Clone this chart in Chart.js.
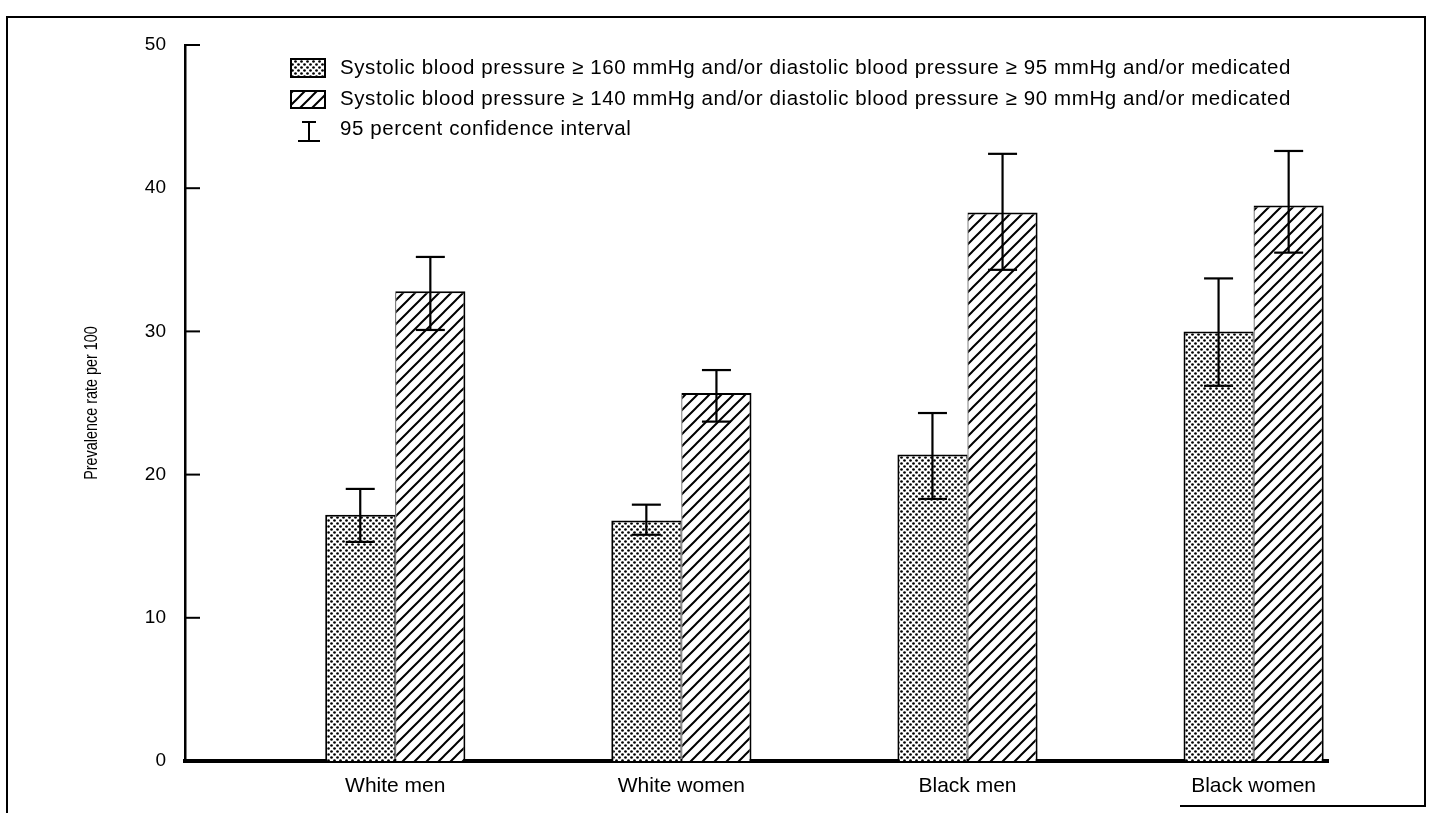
<!DOCTYPE html>
<html>
<head>
<meta charset="utf-8">
<title>Prevalence of hypertension</title>
<script src="https://cdn.jsdelivr.net/npm/chart.js@4.4.1/dist/chart.umd.min.js"></script>
<style>
    html, body { margin: 0; padding: 0; background: #fff; }
    #wrap { width: 1432px; height: 813px; }
</style>
</head>
<body>
<div id="wrap"><canvas id="prevalenceChart" width="1432" height="813"></canvas></div>
<script>
// groups along the x axis
const categories = ['White men', 'White women', 'Black men', 'Black women'];

// >= 160/95 mmHg and/or medicated
const rate160 = [17.2, 16.8, 21.4, 30.0];
const rate160Low = [15.3, 15.8, 18.3, 26.2];
const rate160High = [19.0, 17.9, 24.3, 33.7];

// >= 140/90 mmHg and/or medicated
const rate140 = [32.8, 25.7, 38.3, 38.8];
const rate140Low = [30.1, 23.7, 34.3, 35.5];
const rate140High = [35.2, 27.3, 42.4, 42.6];

const yTickValues = [0, 10, 20, 30, 40, 50];
const yTitle = 'Prevalence rate per 100';

const legendLabels = [
    'Systolic blood pressure \u2265 160 mmHg and/or diastolic blood pressure \u2265 95 mmHg and/or medicated',
    'Systolic blood pressure \u2265 140 mmHg and/or diastolic blood pressure \u2265 90 mmHg and/or medicated',
    '95 percent confidence interval'
];

const INK = '#000';
const FONT = '"Liberation Sans", Arial, sans-serif';

// stipple fill
function dotPattern() {
    const c = document.createElement('canvas');
    c.width = 6; c.height = 6;
    const g = c.getContext('2d');
    g.fillStyle = '#fff';
    g.fillRect(0, 0, 6, 6);
    g.fillStyle = INK;
    [[1.5, 1.5], [4.5, 4.5]].forEach(function (p) {
        g.beginPath();
        g.arc(p[0], p[1], 1.35, 0, Math.PI * 2);
        g.fill();
    });
    return g.createPattern(c, 'repeat');
}

// diagonal hatch fill
function hatchPattern() {
    const s = 12;
    const c = document.createElement('canvas');
    c.width = s; c.height = s;
    const g = c.getContext('2d');
    g.fillStyle = '#fff';
    g.fillRect(0, 0, s, s);
    g.strokeStyle = INK;
    g.lineWidth = 2;
    g.beginPath();
    g.moveTo(-2, 2); g.lineTo(2, -2);
    g.moveTo(0, s); g.lineTo(s, 0);
    g.moveTo(s - 2, s + 2); g.lineTo(s + 2, s - 2);
    g.stroke();
    return g.createPattern(c, 'repeat');
}

const dots = dotPattern();
const hatch = hatchPattern();

function line(ctx, x1, y1, x2, y2) {
    ctx.beginPath();
    ctx.moveTo(x1, y1);
    ctx.lineTo(x2, y2);
    ctx.stroke();
}

// page frame, inward y ticks, axis title, confidence whiskers and the key
const extras = {
    id: 'extras',
    afterDatasetsDraw(chart) {
        const ctx = chart.ctx;
        const y = chart.scales.y;
        const area = chart.chartArea;
        ctx.save();
        ctx.strokeStyle = INK;
        ctx.fillStyle = INK;
        ctx.lineCap = 'butt';

        // tick marks point into the plot
        ctx.lineWidth = 2;
        yTickValues.forEach(function (v) {
            if (v === 0) return;
            const py = y.getPixelForValue(v);
            line(ctx, area.left, py, area.left + 15, py);
        });

        // condensed vertical axis title
        ctx.save();
        ctx.translate(92, (area.top + area.bottom) / 2);
        ctx.rotate(-Math.PI / 2);
        ctx.scale(0.8, 1);
        ctx.font = '18px ' + FONT;
        ctx.textAlign = 'center';
        ctx.textBaseline = 'middle';
        ctx.fillText(yTitle, 0, 0);
        ctx.restore();

        // error bars
        const bounds = [[rate160Low, rate160High], [rate140Low, rate140High]];
        ctx.lineWidth = 2.2;
        bounds.forEach(function (b, di) {
            const meta = chart.getDatasetMeta(di);
            meta.data.forEach(function (bar, i) {
                const top = y.getPixelForValue(b[1][i]);
                const bot = y.getPixelForValue(b[0][i]);
                line(ctx, bar.x, top, bar.x, bot);
                line(ctx, bar.x - 14.5, top, bar.x + 14.5, top);
                line(ctx, bar.x - 14.5, bot, bar.x + 14.5, bot);
            });
        });

        // key
        ctx.lineWidth = 2;
        ctx.fillStyle = dots;
        ctx.fillRect(291, 59, 34, 18);
        ctx.strokeRect(291, 59, 34, 18);
        ctx.fillStyle = hatch;
        ctx.fillRect(291, 91, 34, 17);
        ctx.strokeRect(291, 91, 34, 17);
        line(ctx, 309, 122, 309, 141);
        line(ctx, 302, 122, 316, 122);
        line(ctx, 298, 141, 320, 141);

        ctx.fillStyle = INK;
        ctx.font = '20.5px ' + FONT;
        ctx.letterSpacing = '0.6px';
        ctx.textAlign = 'left';
        ctx.textBaseline = 'middle';
        const rows = [68, 99, 129];
        legendLabels.forEach(function (t, i) {
            ctx.fillText(t, 340, rows[i]);
        });
        ctx.letterSpacing = '0px';

        // frame round the figure
        ctx.lineWidth = 2;
        ctx.beginPath();
        ctx.moveTo(7, 813);
        ctx.lineTo(7, 17);
        ctx.lineTo(1425, 17);
        ctx.lineTo(1425, 806);
        ctx.lineTo(1180, 806);
        ctx.stroke();
        ctx.restore();
    }
};

new Chart(document.getElementById('prevalenceChart'), {
    type: 'bar',
    data: {
        datasets: [{
            label: legendLabels[0],
            data: rate160.map(function (v, i) { return { x: i, y: v }; }),
            backgroundColor: dots,
            borderColor: INK,
            borderWidth: { left: 2, top: 2, right: 1, bottom: 0 },
            borderSkipped: false
        }, {
            label: legendLabels[1],
            data: rate140.map(function (v, i) { return { x: i, y: v }; }),
            backgroundColor: hatch,
            borderColor: INK,
            borderWidth: { left: 1, top: 2, right: 2, bottom: 0 },
            borderSkipped: false
        }]
    },
    options: {
        responsive: false,
        animation: false,
        devicePixelRatio: 1,
        categoryPercentage: 0.49,
        barPercentage: 1,
        layout: { padding: { left: 0, top: 45, right: 104, bottom: 0 } },
        plugins: {
            legend: { display: false },
            tooltip: { enabled: false }
        },
        scales: {
            x: {
                type: 'linear',
                offset: false,
                min: -0.735,
                max: 3.26,
                afterBuildTicks: function (scale) {
                    scale.ticks = categories.map(function (_, i) { return { value: i }; });
                },
                afterFit: function (scale) { scale.height = 52; },
                grid: { display: false, drawTicks: false },
                border: { display: true, color: INK, width: 4 },
                ticks: {
                    padding: 13,
                    color: INK,
                    font: { family: FONT, size: 21 },
                    callback: function (v) { return categories[v]; }
                }
            },
            y: {
                min: 0,
                max: 50,
                afterBuildTicks: function (scale) {
                    scale.ticks = yTickValues.map(function (v) { return { value: v }; });
                },
                afterFit: function (scale) { scale.width = 185; },
                grid: { display: false, drawTicks: false },
                border: { display: true, color: INK, width: 2.5 },
                ticks: {
                    padding: 19,
                    color: INK,
                    font: { family: FONT, size: 19 }
                }
            }
        }
    },
    plugins: [extras]
});
</script>
</body>
</html>
